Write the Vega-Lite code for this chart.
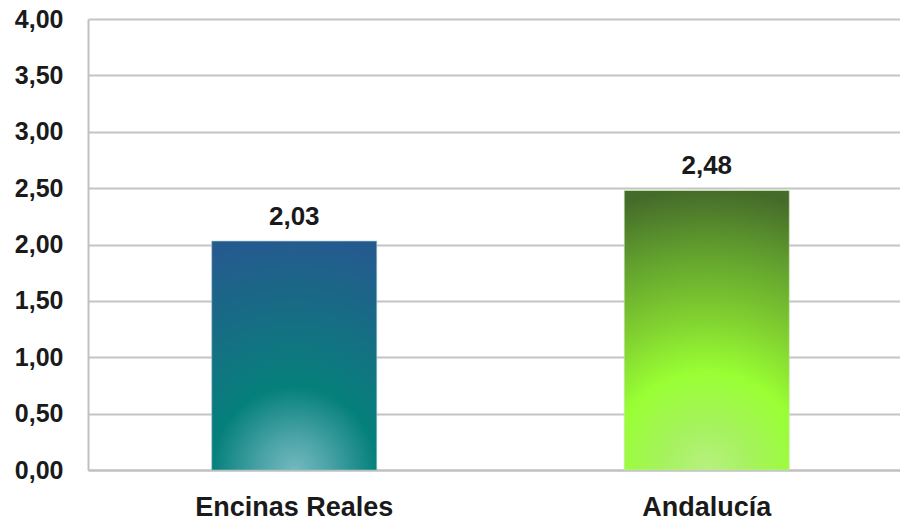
{
  "$schema": "https://vega.github.io/schema/vega-lite/v6.json",
  "autosize": {"type": "none"},
  "padding": {"left": 88, "top": 19, "right": 0, "bottom": 52},
  "width": 825,
  "height": 451,
  "background": "white",
  "config": {
    "view": {"stroke": null},
    "locale": {"number": {"decimal": ",", "thousands": ".", "grouping": [3], "currency": ["", " €"]}},
    "font": "Liberation Sans"
  },
  "data": {"values": [
    {"region": "Encinas Reales", "value": 2.03},
    {"region": "Andalucía", "value": 2.48}
  ]},
  "encoding": {
    "x": {"field": "region", "type": "nominal", "sort": null,
      "scale": {"paddingInner": 0.6, "paddingOuter": 0.3},
      "axis": {"title": null, "labelAngle": 0, "labelLimit": 500, "labelFont": "Liberation Sans", "labelFontWeight": "bold", "labelFontSize": 27, "labelColor": "#1a1a1a", "labelPadding": 24, "ticks": false, "domainColor": "#c0c0c0", "domainWidth": 2, "grid": false}},
    "y": {"field": "value", "type": "quantitative",
      "scale": {"domain": [0, 4], "nice": false},
      "axis": {"title": null, "values": [0, 0.5, 1, 1.5, 2, 2.5, 3, 3.5, 4], "format": ".2f", "labelFont": "Liberation Sans", "labelFontWeight": "bold", "labelFontSize": 25, "labelColor": "#1a1a1a", "labelPadding": 25, "ticks": false, "domainColor": "#c0c0c0", "domainWidth": 2, "gridColor": "#c4c4c4", "gridWidth": 2}}
  },
  "layer": [
    {
      "transform": [{"filter": "datum.region === 'Encinas Reales'"}],
      "mark": {"type": "bar", "stroke": "#9cbfd0", "strokeWidth": 1, "strokeOpacity": 0.6,
        "color": {"gradient": "radial", "x1": 0.5, "y1": 1, "r1": 0, "x2": 0.5, "y2": 1, "r2": 1.0,
          "stops": [
            {"offset": 0, "color": "#72b9be"},
            {"offset": 0.15, "color": "#4aa3a6"},
            {"offset": 0.36, "color": "#05807b"},
            {"offset": 0.6, "color": "#137282"},
            {"offset": 0.82, "color": "#1c6588"},
            {"offset": 1, "color": "#245b8f"}
          ]}}
    },
    {
      "transform": [{"filter": "datum.region === 'Andalucía'"}],
      "mark": {"type": "bar", "stroke": "#c8e8b0", "strokeWidth": 1, "strokeOpacity": 0.6,
        "color": {"gradient": "radial", "x1": 0.5, "y1": 1, "r1": 0, "x2": 0.5, "y2": 1, "r2": 1.0,
          "stops": [
            {"offset": 0, "color": "#b8f080"},
            {"offset": 0.15, "color": "#a6f260"},
            {"offset": 0.35, "color": "#99ff33"},
            {"offset": 0.55, "color": "#80d030"},
            {"offset": 0.78, "color": "#62a02e"},
            {"offset": 1, "color": "#456b2a"}
          ]}}
    },
    {
      "mark": {"type": "text", "baseline": "alphabetic", "dy": -16, "font": "Liberation Sans", "fontWeight": "bold", "fontSize": 26, "color": "#1a1a1a"},
      "encoding": {"text": {"field": "value", "type": "quantitative", "format": ".2f"}}
    }
  ]
}
